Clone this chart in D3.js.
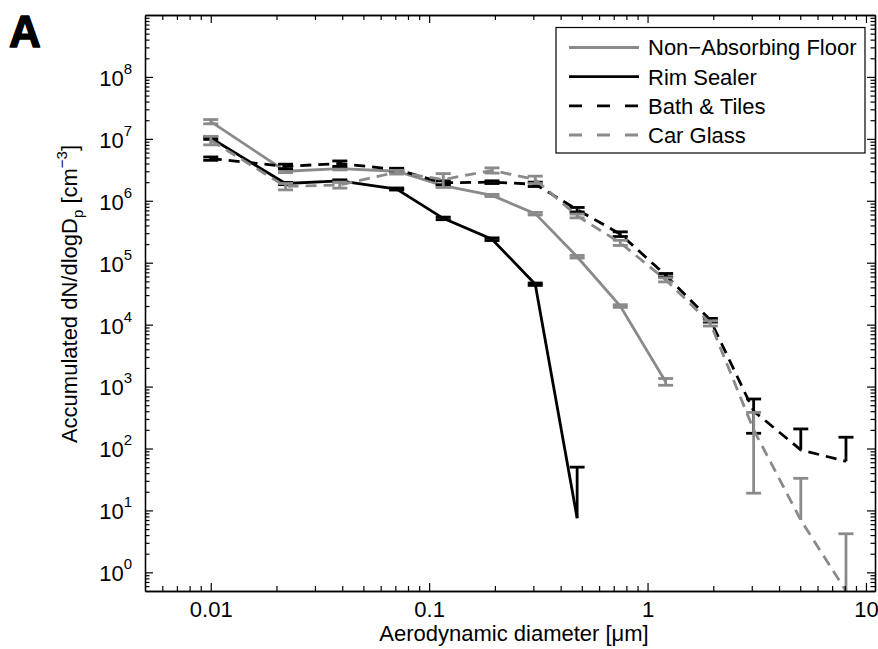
<!DOCTYPE html>
<html>
<head>
<meta charset="utf-8">
<script src="https://cdn.jsdelivr.net/npm/d3@7"></script>
<style>
  body { margin: 0; background: #fff; }
  svg { font-family: "Liberation Sans", Arial, sans-serif; }
</style>
</head>
<body>
<div id="chart"></div>
<script>
// particle sizes (aerodynamic diameter, µm)
const diam = [0.01, 0.022, 0.039, 0.071, 0.116, 0.194, 0.306, 0.476, 0.75, 1.21, 1.94, 3.06, 5.03, 8.1]

// accumulated dN/dlogDp and +/- error for each product
const floorVals = [1.9e7, 3.0e6, 3.3e6, 3.0e6, 1.75e6, 1.22e6, 6.2e5, 1.25e5, 2.0e4, 1.2e3]
const floorErr  = [1.5e6, 1.5e5, 1.5e5, 1.5e5, 8e4, 5e4, 3e4, 6e3, 1e3, 150]

const rimVals = [1.03e7, 1.9e6, 2.1e6, 1.55e6, 5.2e5, 2.4e5, 4.5e4, 7.5]
const rimErr  = [5e5, 8e4, 8e4, 6e4, 2.5e4, 1.2e4, 2e3, 42.5]

const bathVals = [4.8e6, 3.6e6, 4.0e6, 3.2e6, 1.95e6, 2.0e6, 1.85e6, 7.2e5, 2.9e5, 6.3e4, 1.18e4, 403, 95, 62]
const bathErr  = [3e5, 3e5, 4e5, 1.5e5, 1.5e5, 1e5, 1.5e5, 6e4, 2.5e4, 4e3, 800, 227, 112, 90]

const carVals = [9.5e6, 1.7e6, 1.8e6, 2.9e6, 2.2e6, 3.1e6, 2.2e6, 5.7e5, 2.1e5, 5.3e4, 1.05e4, 201, 7, 0.5]
const carErr  = [1.5e6, 2e5, 2e5, 2e5, 5.5e5, 3e5, 3e5, 4e4, 2e4, 4e3, 1e3, 182, 26, 3.7]

const seriesNames = ["Non\u2212Absorbing Floor", "Rim Sealer", "Bath & Tiles", "Car Glass"]

// tick values
const xMajor = [0.01, 0.1, 1, 10]
const xMajorLabels = ["0.01", "0.1", "1", "10"]
const yExponents = [0, 1, 2, 3, 4, 5, 6, 7, 8]

const w = 878
const h = 649
const padL = 145, padR = 875, padT = 15, padB = 591
const grey = "#8a8a8a"

const series = [
  { name: seriesNames[0], vals: floorVals, err: floorErr, color: grey, dash: null },
  { name: seriesNames[1], vals: rimVals, err: rimErr, color: "#000", dash: null },
  { name: seriesNames[2], vals: bathVals, err: bathErr, color: "#000", dash: "11,7" },
  { name: seriesNames[3], vals: carVals, err: carErr, color: grey, dash: "11,7" }
]

const xScale = d3.scaleLog().domain([0.005, 11]).range([padL, padR])
const yScale = d3.scaleLog().domain([0.5, 1e9]).range([padB, padT])

const svg = d3.select("#chart").append("svg")
  .attr("width", w)
  .attr("height", h)

// minor tick positions (2..9 x 10^k inside the domain)
function minorTicks(scale) {
  const [a, b] = scale.domain()
  const out = []
  for (let k = Math.floor(Math.log10(a)); k <= Math.ceil(Math.log10(b)); k++) {
    for (let m = 2; m <= 9; m++) {
      const v = m * Math.pow(10, k)
      if (v > a && v < b) out.push(v)
    }
  }
  return out
}
const yMajor = yExponents.map(e => Math.pow(10, e))

// clip region for data
svg.append("clipPath").attr("id", "plotclip")
  .append("rect")
  .attr("x", padL).attr("y", padT)
  .attr("width", padR - padL).attr("height", padB - padT)

const plot = svg.append("g").attr("clip-path", "url(#plotclip)")

const line = d3.line()
  .x((d, i) => xScale(diam[i]))
  .y(d => yScale(d))

const cap = 7.5
series.forEach(s => {
  plot.append("path")
    .datum(s.vals)
    .attr("d", line)
    .attr("fill", "none")
    .attr("stroke", s.color)
    .attr("stroke-width", 2.8)
    .attr("stroke-dasharray", s.dash)

  // error bars (lower half dropped when it would be <= 0 on log axis)
  const g = plot.append("g").attr("stroke", s.color).attr("stroke-width", 2.8)
  s.vals.forEach((v, i) => {
    const x = xScale(diam[i])
    const hi = v + s.err[i]
    const lo = v - s.err[i]
    const yLo = lo > 0 ? yScale(lo) : yScale(v)
    g.append("line").attr("x1", x).attr("x2", x).attr("y1", yScale(hi)).attr("y2", yLo)
    g.append("line").attr("x1", x - cap).attr("x2", x + cap).attr("y1", yScale(hi)).attr("y2", yScale(hi))
    if (lo > 0) {
      g.append("line").attr("x1", x - cap).attr("x2", x + cap).attr("y1", yScale(lo)).attr("y2", yScale(lo))
    }
  })
})

// axes: major + minor ticks on all four sides, pointing inward
function styleAxis(g) {
  g.selectAll(".domain").attr("stroke", "#000").attr("stroke-width", 1.3)
  g.selectAll(".tick line").attr("stroke", "#000").attr("stroke-width", 1.2)
}

// bottom
svg.append("g")
  .attr("transform", `translate(0, ${padB})`)
  .call(d3.axisBottom(xScale).tickValues(minorTicks(xScale)).tickSize(-5).tickSizeOuter(0).tickFormat(""))
  .call(styleAxis)
const xAxis = svg.append("g")
  .attr("id", "x-axis")
  .attr("transform", `translate(0, ${padB})`)
  .call(d3.axisBottom(xScale).tickValues(xMajor).tickSize(-8).tickSizeOuter(0).tickPadding(10)
    .tickFormat((d, i) => xMajorLabels[i]))
  .call(styleAxis)
xAxis.selectAll("text").attr("fill", "#000").style("font-size", "22px")
  .style("font-family", "'Liberation Sans', Arial, sans-serif")

// top
svg.append("g")
  .attr("transform", `translate(0, ${padT})`)
  .call(d3.axisTop(xScale).tickValues(minorTicks(xScale)).tickSize(-5).tickSizeOuter(0).tickFormat(""))
  .call(styleAxis)
svg.append("g")
  .attr("transform", `translate(0, ${padT})`)
  .call(d3.axisTop(xScale).tickValues(xMajor).tickSize(-8).tickSizeOuter(0).tickFormat(""))
  .call(styleAxis)

// left
svg.append("g")
  .attr("transform", `translate(${padL}, 0)`)
  .call(d3.axisLeft(yScale).tickValues(minorTicks(yScale)).tickSize(-4.5).tickSizeOuter(0).tickFormat(""))
  .call(styleAxis)
const yAxis = svg.append("g")
  .attr("id", "y-axis")
  .attr("transform", `translate(${padL}, 0)`)
  .call(d3.axisLeft(yScale).tickValues(yMajor).tickSize(-8).tickSizeOuter(0).tickPadding(13)
    .tickFormat(""))
  .call(styleAxis)
yAxis.selectAll(".tick text").each(function(d, i) {
  const t = d3.select(this)
    .attr("fill", "#000")
    .attr("dy", "0.38em")
    .style("font-size", "22px")
    .style("font-family", "'Liberation Sans', Arial, sans-serif")
  t.text(null)
  t.append("tspan").text("10")
  t.append("tspan").attr("dy", -12).style("font-size", "15px").text(yExponents[i])
})

// right
svg.append("g")
  .attr("transform", `translate(${padR}, 0)`)
  .call(d3.axisRight(yScale).tickValues(minorTicks(yScale)).tickSize(-4.5).tickSizeOuter(0).tickFormat(""))
  .call(styleAxis)
svg.append("g")
  .attr("transform", `translate(${padR}, 0)`)
  .call(d3.axisRight(yScale).tickValues(yMajor).tickSize(-8).tickSizeOuter(0).tickFormat(""))
  .call(styleAxis)

// axis titles
svg.append("text")
  .attr("x", 514)
  .attr("y", 641)
  .attr("text-anchor", "middle")
  .style("font-size", "22px")
  .text("Aerodynamic diameter [\u03bcm]")

const yTitle = svg.append("text")
  .attr("transform", "translate(77, 294) rotate(-90)")
  .attr("text-anchor", "middle")
  .style("font-size", "22px")
yTitle.append("tspan").text("Accumulated dN/dlogD")
yTitle.append("tspan").attr("dy", 6).style("font-size", "15px").text("p")
yTitle.append("tspan").attr("dy", -6).text(" [cm")
yTitle.append("tspan").attr("dy", -10).style("font-size", "15px").text("\u22123")
yTitle.append("tspan").attr("dy", 10).text("]")

// panel letter
svg.append("text")
  .attr("x", 9)
  .attr("y", 47)
  .style("font-size", "44px")
  .style("font-weight", "bold")
  .attr("stroke", "#000")
  .attr("stroke-width", 1.5)
  .attr("stroke-linejoin", "round")
  .text("A")

// legend
const legend = svg.append("g")
legend.append("rect")
  .attr("x", 556).attr("y", 27.5)
  .attr("width", 309).attr("height", 125.5)
  .attr("fill", "#fff").attr("stroke", "#000").attr("stroke-width", 1.2)
const rowY = d3.scaleLinear().domain([0, 3]).range([47.5, 135])
series.forEach((s, i) => {
  legend.append("line")
    .attr("x1", 569).attr("x2", 639)
    .attr("y1", rowY(i)).attr("y2", rowY(i))
    .attr("stroke", s.color).attr("stroke-width", 2.8)
    .attr("stroke-dasharray", s.dash ? "13,15" : null)
  legend.append("text")
    .attr("x", 648).attr("y", rowY(i))
    .attr("dy", "0.36em")
    .style("font-size", "22px")
    .text(s.name)
})
</script>
</body>
</html>
